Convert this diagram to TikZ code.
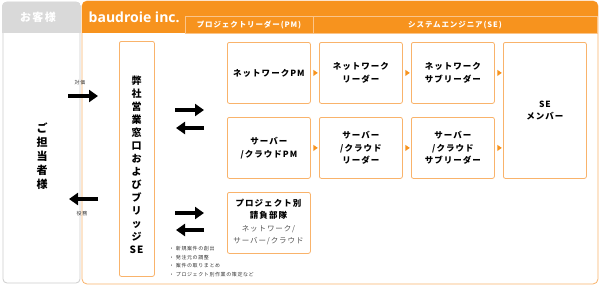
\documentclass[tikz,border=0pt]{standalone}
\usepackage{fontspec}
\setmainfont{Noto Sans CJK JP}
\newfontfamily\jp[LetterSpace=12]{Noto Sans CJK JP}
\newfontfamily\lat{Open Sans}
\usetikzlibrary{arrows.meta,shapes.geometric}
\definecolor{orng}{HTML}{F7931E}
\definecolor{boxor}{HTML}{F9B36B}
\definecolor{subline}{HTML}{FBC58A}
\definecolor{grayhd}{HTML}{D9D9D9}
\definecolor{graybd}{HTML}{CDCDCD}
\definecolor{txtgray}{HTML}{555555}
\definecolor{txtdark}{HTML}{333333}
\tikzset{
  rolebox/.style={draw=boxor, line width=0.8pt, rounded corners=2pt, fill=white,
    anchor=north west, minimum width=83pt, minimum height=61pt, inner sep=0pt,
    align=center, font=\jp\bfseries\fontsize{8.5}{12.5}\selectfont},
  tri/.style={fill=orng, isosceles triangle, isosceles triangle apex angle=70,
    inner sep=0pt, minimum height=4.5pt, minimum width=6pt},
  bigarrow/.style={line width=4pt, -{Triangle[length=9pt,width=12pt]}, black},
  tiny/.style={font=\jp\fontsize{5}{6}\selectfont, text=txtdark, inner sep=0pt},
}
\begin{document}
\begin{tikzpicture}[x=1pt,y=-1pt]
\useasboundingbox (0,0) rectangle (600,293);
% customer column
\draw[graybd, line width=0.8pt, fill=white, rounded corners=4pt] (3,2) rectangle (80,283);
\begin{scope}
  \clip[rounded corners=4pt] (2,2) rectangle (81,283);
  \fill[grayhd] (2,2) rectangle (81,33);
\end{scope}
\node[font=\jp\bfseries\fontsize{11}{12}\selectfont, text=white] (custhd) at (38,17) {お客様};
\node[font=\jp\bfseries\fontsize{11}{14}\selectfont, align=center, inner sep=0pt] (cust) at (42,156) {ご\\担\\当\\者\\様};
% company frame
\draw[boxor, line width=0.8pt, fill=white, rounded corners=5pt] (82,1) rectangle (598,284);
\begin{scope}
  \clip[rounded corners=5pt] (82,1) rectangle (598,284);
  \fill[orng] (82,1) rectangle (598,33);
\end{scope}
\node[font=\lat\bfseries\fontsize{14}{16}\selectfont, text=white, anchor=west, inner sep=0pt] (comp) at (88.5,17) {baudroie inc.};
\draw[subline, line width=0.8pt, fill=orng] (185,16) rectangle (597.5,33);
\draw[subline, line width=0.8pt] (313,16) -- (313,33);
\node[font=\jp\bfseries\fontsize{7.5}{9}\selectfont, text=white] (pmhd) at (249,25) {プロジェクトリーダー(PM)};
\node[font=\jp\bfseries\fontsize{7.5}{9}\selectfont, text=white] (sehd) at (455,25) {システムエンジニア(SE)};
% bridge box
\node[draw=boxor, line width=0.8pt, rounded corners=2pt, anchor=north west, minimum width=35pt, minimum height=235pt, inner sep=0pt] (bridge) at (119,41) {};
\node[font=\jp\bfseries\fontsize{10}{13}\selectfont, align=center, inner sep=0pt] (bridgetxt) at (136.5,164.5) {弊\\社\\営\\業\\窓\\口\\お\\よ\\び\\ブ\\リ\\ッ\\ジ\\SE};
% role boxes
\node[rolebox] (pm1) at (227,42) {ネットワークPM};
\node[rolebox] (pm2) at (227,117) {サーバー\\/クラウドPM};
\node[rolebox] (pm3) at (227,192) {};
\node[font=\jp\bfseries\fontsize{8.5}{12}\selectfont, align=center, inner sep=0pt] (pm3a) at (268.5,209) {プロジェクト別\\請負部隊};
\node[font=\jp\fontsize{7.5}{11.5}\selectfont, align=center, inner sep=0pt, text=txtgray] (pm3b) at (268.5,235) {ネットワーク/\\サーバー/クラウド};
\node[rolebox] (ld1) at (319,42) {ネットワーク\\リーダー};
\node[rolebox] (ld2) at (319,117) {サーバー\\/クラウド\\リーダー};
\node[rolebox] (sl1) at (411,42) {ネットワーク\\サブリーダー};
\node[rolebox] (sl2) at (411,117) {サーバー\\/クラウド\\サブリーダー};
\node[rolebox, minimum height=136pt] (se) at (503,42) {SE\\メンバー};
% small triangles
\path (pm1.east) -- (ld1.west) node[midway, tri] {};
\path (ld1.east) -- (sl1.west) node[midway, tri] {};
\path (sl1.east) -- (se.west |- sl1.east) node[midway, tri] {};
\path (pm2.east) -- (ld2.west) node[midway, tri] {};
\path (ld2.east) -- (sl2.west) node[midway, tri] {};
\path (sl2.east) -- (se.west |- sl2.east) node[midway, tri] {};
% customer arrows
\coordinate (c1) at (68,96); \coordinate (c2) at (98,96);
\coordinate (c3) at (98,199); \coordinate (c4) at (69,199);
\draw[bigarrow] (c1) -- (c2);
\draw[bigarrow] (c3) -- (c4);
\node[tiny] (lab1) at (80,83) {対価};
\node[tiny] (lab2) at (82,214) {役務};
% bridge <-> PM arrows
\coordinate (b1) at (175,110); \coordinate (b2) at (204,110);
\coordinate (b3) at (204,128); \coordinate (b4) at (176,128);
\coordinate (b5) at (175,213); \coordinate (b6) at (204,213);
\coordinate (b7) at (204,230); \coordinate (b8) at (176,230);
\draw[bigarrow] (b1) -- (b2);
\draw[bigarrow] (b3) -- (b4);
\draw[bigarrow] (b5) -- (b6);
\draw[bigarrow] (b7) -- (b8);
% bullets
\node[tiny, anchor=west] (bl1) at (169,249) {・ 新規案件の創出};
\node[tiny, anchor=west] (bl2) at (169,258) {・ 発注元の調整};
\node[tiny, anchor=west] (bl3) at (169,266) {・ 案件の取りまとめ};
\node[tiny, anchor=west] (bl4) at (169,274.5) {・ プロジェクト別作業の策定など};
\end{tikzpicture}
\end{document}
